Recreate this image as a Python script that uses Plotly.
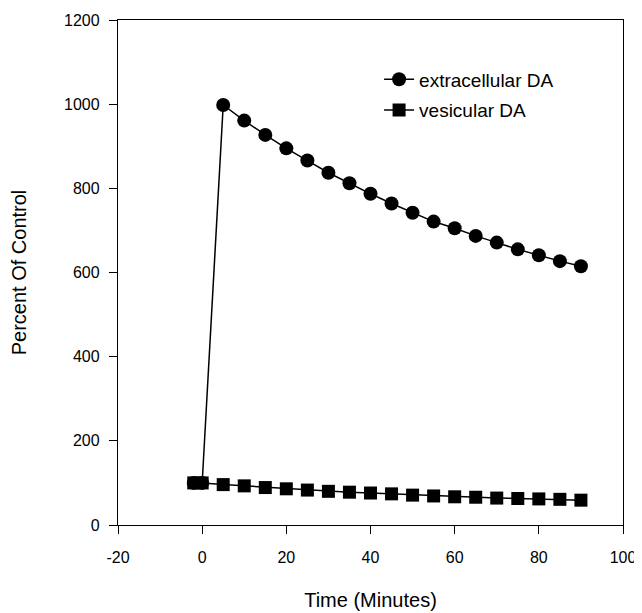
import plotly.graph_objects as go

time_min = [-2, 0, 5, 10, 15, 20, 25, 30, 35, 40, 45, 50, 55, 60, 65, 70, 75, 80, 85, 90]
extracellular_da = [100, 100, 998, 961, 927, 895, 866, 837, 812, 787, 764, 742, 721, 705, 687, 671, 655, 641, 627, 615]
vesicular_da = [100, 100, 96, 93, 89, 86, 83, 80, 78, 76, 74, 71, 69, 67, 66, 64, 63, 62, 61, 59]

x_ticks = [-20, 0, 20, 40, 60, 80, 100]
x_tick_labels = ["-20", "0", "20", "40", "60", "80", "100"]
y_ticks = [0, 200, 400, 600, 800, 1000, 1200]
y_tick_labels = ["0", "200", "400", "600", "800", "1000", "1200"]

FONT = "Liberation Sans, Arial"

fig = go.Figure()
fig.add_trace(go.Scatter(
    x=time_min, y=extracellular_da, mode="lines+markers", name="extracellular DA",
    legendgroup="a",
    line=dict(color="black", width=1.5),
    marker=dict(symbol="circle", size=14, color="black"),
))
fig.add_trace(go.Scatter(
    x=time_min, y=vesicular_da, mode="lines+markers", name="vesicular DA",
    legendgroup="b",
    line=dict(color="black", width=1.5),
    marker=dict(symbol="square", size=13, color="black"),
))

axis_common = dict(
    showline=True, linecolor="black", linewidth=1.3, mirror=True,
    ticks="outside", ticklen=8, tickwidth=1.3, tickcolor="black",
    showgrid=False, zeroline=False, automargin=False,
    tickfont=dict(family=FONT, size=16, color="black"),
    title_font=dict(family=FONT, size=20, color="black"),
)

fig.update_layout(
    width=634, height=605,
    margin=dict(l=110, r=19, t=12, b=88),
    plot_bgcolor="white", paper_bgcolor="white",
    xaxis=dict(range=[-20, 100], tickvals=x_ticks, ticktext=x_tick_labels,
               ticklabelstandoff=10,
               title=dict(text="Time (Minutes)", standoff=27), **axis_common),
    yaxis=dict(range=[0, 1200], tickvals=y_ticks, ticktext=y_tick_labels,
               ticklabelstandoff=6,
               title=dict(text="Percent Of Control", standoff=33), **axis_common),
    legend=dict(x=0.517, y=0.92, xanchor="left", yanchor="top",
                bgcolor="rgba(0,0,0,0)", tracegroupgap=3,
                font=dict(family=FONT, size=19, color="black")),
    showlegend=True,
)

fig.write_html("out.html")
